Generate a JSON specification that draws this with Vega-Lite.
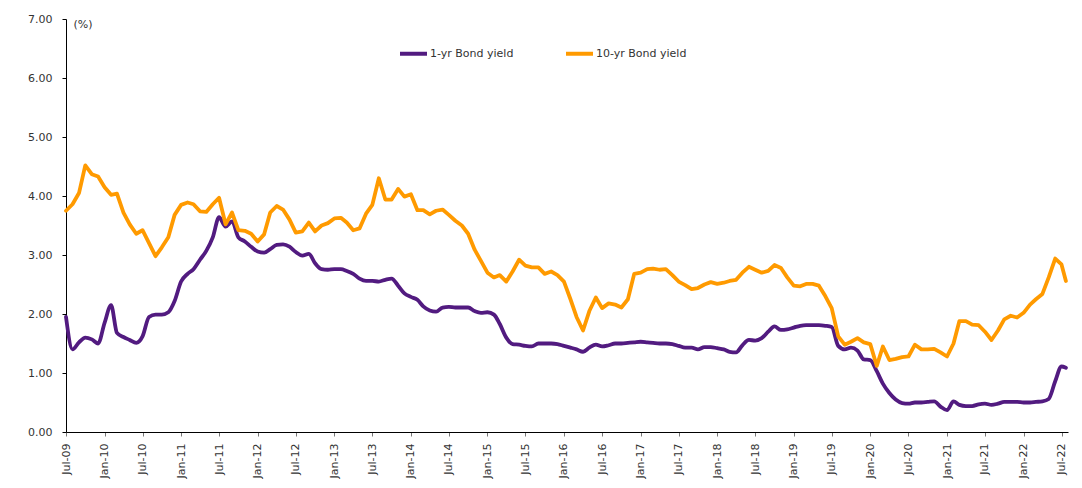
{
  "$schema": "https://vega.github.io/schema/vega-lite/v6.json",
  "width": 1002,
  "height": 413,
  "autosize": {"type": "none"},
  "padding": {"left": 66, "top": 19, "right": 14, "bottom": 56},
  "background": "white",
  "config": {"view": {"stroke": null}, "font": "DejaVu Sans"},
  "data": {"values": [
    {"d":"2009-07-01","o":3.75,"p":1.95},{"d":"2009-08-01","o":3.86,"p":1.40},{"d":"2009-09-01","o":4.05,"p":1.52},{"d":"2009-10-01","o":4.52,"p":1.60},{"d":"2009-11-01","o":4.37,"p":1.57},{"d":"2009-12-01","o":4.33,"p":1.50},
    {"d":"2010-01-01","o":4.15,"p":1.85},{"d":"2010-02-01","o":4.02,"p":2.15},{"d":"2010-03-01","o":4.04,"p":1.68},{"d":"2010-04-01","o":3.72,"p":1.61},{"d":"2010-05-01","o":3.52,"p":1.56},{"d":"2010-06-01","o":3.36,"p":1.51},
    {"d":"2010-07-01","o":3.42,"p":1.62},{"d":"2010-08-01","o":3.20,"p":1.95},{"d":"2010-09-01","o":2.98,"p":1.99},{"d":"2010-10-01","o":3.13,"p":1.99},{"d":"2010-11-01","o":3.30,"p":2.03},{"d":"2010-12-01","o":3.68,"p":2.22},
    {"d":"2011-01-01","o":3.85,"p":2.55},{"d":"2011-02-01","o":3.89,"p":2.68},{"d":"2011-03-01","o":3.86,"p":2.76},{"d":"2011-04-01","o":3.74,"p":2.92},{"d":"2011-05-01","o":3.73,"p":3.07},{"d":"2011-06-01","o":3.86,"p":3.30},
    {"d":"2011-07-01","o":3.97,"p":3.64},{"d":"2011-08-01","o":3.52,"p":3.48},{"d":"2011-09-01","o":3.72,"p":3.57},{"d":"2011-10-01","o":3.42,"p":3.30},{"d":"2011-11-01","o":3.41,"p":3.23},{"d":"2011-12-01","o":3.36,"p":3.14},
    {"d":"2012-01-01","o":3.23,"p":3.06},{"d":"2012-02-01","o":3.35,"p":3.04},{"d":"2012-03-01","o":3.72,"p":3.10},{"d":"2012-04-01","o":3.83,"p":3.17},{"d":"2012-05-01","o":3.77,"p":3.18},{"d":"2012-06-01","o":3.60,"p":3.14},
    {"d":"2012-07-01","o":3.38,"p":3.05},{"d":"2012-08-01","o":3.40,"p":2.99},{"d":"2012-09-01","o":3.55,"p":3.02},{"d":"2012-10-01","o":3.40,"p":2.86},{"d":"2012-11-01","o":3.50,"p":2.76},{"d":"2012-12-01","o":3.54,"p":2.75},
    {"d":"2013-01-01","o":3.62,"p":2.76},{"d":"2013-02-01","o":3.63,"p":2.76},{"d":"2013-03-01","o":3.55,"p":2.73},{"d":"2013-04-01","o":3.42,"p":2.68},{"d":"2013-05-01","o":3.45,"p":2.60},{"d":"2013-06-01","o":3.70,"p":2.56},
    {"d":"2013-07-01","o":3.85,"p":2.56},{"d":"2013-08-01","o":4.30,"p":2.55},{"d":"2013-09-01","o":3.94,"p":2.58},{"d":"2013-10-01","o":3.94,"p":2.60},{"d":"2013-11-01","o":4.12,"p":2.48},{"d":"2013-12-01","o":3.99,"p":2.35},
    {"d":"2014-01-01","o":4.03,"p":2.29},{"d":"2014-02-01","o":3.76,"p":2.24},{"d":"2014-03-01","o":3.76,"p":2.13},{"d":"2014-04-01","o":3.69,"p":2.06},{"d":"2014-05-01","o":3.75,"p":2.04},{"d":"2014-06-01","o":3.77,"p":2.11},
    {"d":"2014-07-01","o":3.68,"p":2.12},{"d":"2014-08-01","o":3.58,"p":2.11},{"d":"2014-09-01","o":3.50,"p":2.11},{"d":"2014-10-01","o":3.36,"p":2.11},{"d":"2014-11-01","o":3.09,"p":2.05},{"d":"2014-12-01","o":2.90,"p":2.02},
    {"d":"2015-01-01","o":2.70,"p":2.03},{"d":"2015-02-01","o":2.62,"p":1.99},{"d":"2015-03-01","o":2.66,"p":1.83},{"d":"2015-04-01","o":2.55,"p":1.60},{"d":"2015-05-01","o":2.72,"p":1.49},{"d":"2015-06-01","o":2.92,"p":1.48},
    {"d":"2015-07-01","o":2.82,"p":1.46},{"d":"2015-08-01","o":2.79,"p":1.45},{"d":"2015-09-01","o":2.79,"p":1.50},{"d":"2015-10-01","o":2.68,"p":1.50},{"d":"2015-11-01","o":2.72,"p":1.50},{"d":"2015-12-01","o":2.66,"p":1.49},
    {"d":"2016-01-01","o":2.55,"p":1.46},{"d":"2016-02-01","o":2.25,"p":1.43},{"d":"2016-03-01","o":1.95,"p":1.40},{"d":"2016-04-01","o":1.72,"p":1.36},{"d":"2016-05-01","o":2.05,"p":1.43},{"d":"2016-06-01","o":2.28,"p":1.48},
    {"d":"2016-07-01","o":2.10,"p":1.45},{"d":"2016-08-01","o":2.18,"p":1.47},{"d":"2016-09-01","o":2.16,"p":1.50},{"d":"2016-10-01","o":2.11,"p":1.50},{"d":"2016-11-01","o":2.25,"p":1.51},{"d":"2016-12-01","o":2.68,"p":1.52},
    {"d":"2017-01-01","o":2.70,"p":1.53},{"d":"2017-02-01","o":2.76,"p":1.52},{"d":"2017-03-01","o":2.77,"p":1.51},{"d":"2017-04-01","o":2.75,"p":1.50},{"d":"2017-05-01","o":2.76,"p":1.50},{"d":"2017-06-01","o":2.66,"p":1.49},
    {"d":"2017-07-01","o":2.55,"p":1.46},{"d":"2017-08-01","o":2.49,"p":1.43},{"d":"2017-09-01","o":2.42,"p":1.43},{"d":"2017-10-01","o":2.44,"p":1.40},{"d":"2017-11-01","o":2.50,"p":1.44},{"d":"2017-12-01","o":2.54,"p":1.44},
    {"d":"2018-01-01","o":2.51,"p":1.42},{"d":"2018-02-01","o":2.53,"p":1.40},{"d":"2018-03-01","o":2.56,"p":1.36},{"d":"2018-04-01","o":2.58,"p":1.35},{"d":"2018-05-01","o":2.70,"p":1.47},{"d":"2018-06-01","o":2.80,"p":1.56},
    {"d":"2018-07-01","o":2.75,"p":1.55},{"d":"2018-08-01","o":2.70,"p":1.59},{"d":"2018-09-01","o":2.73,"p":1.70},{"d":"2018-10-01","o":2.83,"p":1.79},{"d":"2018-11-01","o":2.78,"p":1.73},{"d":"2018-12-01","o":2.62,"p":1.74},
    {"d":"2019-01-01","o":2.48,"p":1.77},{"d":"2019-02-01","o":2.47,"p":1.80},{"d":"2019-03-01","o":2.51,"p":1.81},{"d":"2019-04-01","o":2.51,"p":1.81},{"d":"2019-05-01","o":2.48,"p":1.81},{"d":"2019-06-01","o":2.30,"p":1.80},
    {"d":"2019-07-01","o":2.10,"p":1.78},{"d":"2019-08-01","o":1.62,"p":1.46},{"d":"2019-09-01","o":1.48,"p":1.40},{"d":"2019-10-01","o":1.53,"p":1.43},{"d":"2019-11-01","o":1.59,"p":1.38},{"d":"2019-12-01","o":1.52,"p":1.23},
    {"d":"2020-01-01","o":1.49,"p":1.22},{"d":"2020-02-01","o":1.12,"p":1.03},{"d":"2020-03-01","o":1.45,"p":0.82},{"d":"2020-04-01","o":1.22,"p":0.66},{"d":"2020-05-01","o":1.24,"p":0.55},{"d":"2020-06-01","o":1.27,"p":0.49},
    {"d":"2020-07-01","o":1.28,"p":0.48},{"d":"2020-08-01","o":1.48,"p":0.50},{"d":"2020-09-01","o":1.40,"p":0.50},{"d":"2020-10-01","o":1.40,"p":0.51},{"d":"2020-11-01","o":1.41,"p":0.52},{"d":"2020-12-01","o":1.35,"p":0.43},
    {"d":"2021-01-01","o":1.28,"p":0.37},{"d":"2021-02-01","o":1.50,"p":0.52},{"d":"2021-03-01","o":1.88,"p":0.46},{"d":"2021-04-01","o":1.88,"p":0.44},{"d":"2021-05-01","o":1.82,"p":0.44},{"d":"2021-06-01","o":1.81,"p":0.47},
    {"d":"2021-07-01","o":1.70,"p":0.48},{"d":"2021-08-01","o":1.56,"p":0.46},{"d":"2021-09-01","o":1.72,"p":0.48},{"d":"2021-10-01","o":1.91,"p":0.51},{"d":"2021-11-01","o":1.97,"p":0.51},{"d":"2021-12-01","o":1.94,"p":0.51},
    {"d":"2022-01-01","o":2.02,"p":0.50},{"d":"2022-02-01","o":2.16,"p":0.50},{"d":"2022-03-01","o":2.25,"p":0.51},{"d":"2022-04-01","o":2.34,"p":0.52},{"d":"2022-05-01","o":2.62,"p":0.56},{"d":"2022-06-01","o":2.94,"p":0.86},
    {"d":"2022-07-01","o":2.84,"p":1.11},{"d":"2022-07-22","o":2.56,"p":1.09}
  ]},
  "transform": [
    {"fold": ["p", "o"], "as": ["key", "y"]}
  ],
  "encoding": {
    "x": {
      "field": "d", "type": "temporal",
      "scale": {"type": "utc", "domain": [{"year": 2009, "month": 7, "date": 1, "utc": true}, {"year": 2022, "month": 8, "date": 1, "utc": true}]},
      "axis": {
        "title": null, "format": "%b-%y", "tickCount": {"interval": "month", "step": 6},
        "labelAngle": -90, "labelOverlap": false, "labelFlush": false, "grid": false,
        "domainColor": "#000", "domainWidth": 1, "tickColor": "#777", "tickSize": 4, "labelPadding": 7,
        "labelFont": "DejaVu Sans", "labelFontSize": 11, "labelColor": "#333"
      }
    },
    "y": {
      "field": "y", "type": "quantitative",
      "scale": {"domain": [0, 7]},
      "axis": {
        "values": [0, 1, 2, 3, 4, 5, 6, 7], "format": ".2f", "grid": false,
        "domainColor": "#000", "tickColor": "#000", "tickSize": 4, "labelPadding": 10,
        "labelFont": "DejaVu Sans", "labelFontSize": 11, "labelColor": "#333",
        "title": "(%)", "titleAngle": 0, "titleX": 7, "titleY": 5, "titleAlign": "left", "titleBaseline": "middle",
        "titleFont": "DejaVu Sans", "titleFontSize": 11, "titleFontWeight": "normal", "titleColor": "#333"
      }
    },
    "color": {
      "field": "key", "type": "nominal",
      "scale": {"domain": ["p", "o"], "range": ["#521b80", "#ff9a00"]},
      "legend": {
        "orient": "none", "legendX": 332, "legendY": 19, "direction": "horizontal", "title": null,
        "symbolType": "stroke", "symbolStrokeWidth": 4, "symbolSize": 729,
        "labelFont": "DejaVu Sans", "labelFontSize": 11, "labelColor": "#333", "labelOffset": 1, "columnPadding": 44,
        "labelExpr": "datum.label == 'p' ? '1-yr Bond yield' : '10-yr Bond yield'"
      }
    }
  },
  "layer": [
    {"transform": [{"filter": "datum.key == 'p'"}], "mark": {"type": "line", "strokeWidth": 3.8, "interpolate": "monotone", "strokeJoin": "round", "strokeCap": "round"}},
    {"transform": [{"filter": "datum.key == 'o'"}], "mark": {"type": "line", "strokeWidth": 3.8, "strokeJoin": "round", "strokeCap": "round"}}
  ]
}
